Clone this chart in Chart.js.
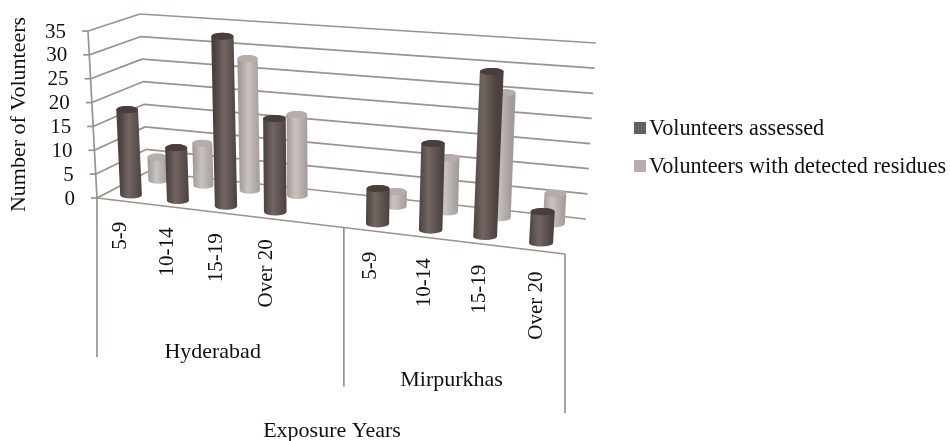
<!DOCTYPE html>
<html>
<head>
<meta charset="utf-8">
<style>
html, body { margin: 0; padding: 0; background: #fff; }
#wrap { width: 950px; height: 441px; }
</style>
<script src="https://cdn.jsdelivr.net/npm/chart.js@4/dist/chart.umd.min.js"></script>
</head>
<body>
<div id="wrap"><canvas id="chart" width="950" height="441"></canvas></div>
<script>
// values; the empty slot is the gap between the two towns
const categories = ['5-9', '10-14', '15-19', 'Over 20', '', '5-9', '10-14', '15-19', 'Over 20'];
const assessed = [18, 11, 35, 19, null, 7, 17, 32, 6];
const withResidues = [5, 9, 28, 17, null, 3, 11, 25, 6];
const groupNames = ['Hyderabad', 'Mirpurkhas'];
const groupFirstSlot = [0, 5];
const groupEndSlot = [5, 9];

const FONT = '"Liberation Serif", serif';
const LINE = '#9d918b';
const TEXT = '#111111';

// box corners on screen: floor and top (value 35), front and back
const box = {
    frontLeft: [[97, 198], [88, 31]],
    frontRight: [[565, 254], [576, 68]],
    backLeft: [[147, 172], [140, 14]],
    backRight: [[586, 219], [596, 43]]
};
const looks = [
    { depth: 0.22, edge: '#4b413e', mid: '#726663', cap: '#483e3b', swatch: '#6b5f5c' },
    { depth: 0.78, edge: '#a39b97', mid: '#c9c4c1', cap: '#b4adaa', swatch: '#b5adaa' }
];

function warp(u) {
    // things further right are nearer to the camera
    return u / (u + (1 - u) * 1.12);
}

function mix(a, b, t) {
    return [a[0] + (b[0] - a[0]) * t, a[1] + (b[1] - a[1]) * t];
}

// u along the categories, d into the depth, v up the value axis (all 0..1)
function project(u, d, v) {
    const w = warp(u);
    const floor = mix(mix(box.frontLeft[0], box.frontRight[0], w), mix(box.backLeft[0], box.backRight[0], w), d);
    const top = mix(mix(box.frontLeft[1], box.frontRight[1], w), mix(box.backLeft[1], box.backRight[1], w), d);
    return mix(floor, top, v);
}

function uOf(chart, px) {
    const a = chart.chartArea;
    return (px - a.left) / (a.right - a.left);
}

function vOf(chart, py) {
    const a = chart.chartArea;
    return (a.bottom - py) / (a.bottom - a.top);
}

function line(ctx, p, q) {
    ctx.beginPath();
    ctx.moveTo(p[0], p[1]);
    ctx.lineTo(q[0], q[1]);
    ctx.stroke();
}

function drawCylinder(chart, bar, u, look, scaleW) {
    const ctx = chart.ctx;
    const d = look.depth;
    const base = project(u, d, vOf(chart, bar.base));
    const top = project(u, d, vOf(chart, bar.y));
    const r = bar.width / 2 * scaleW;
    const ry = 3.6;

    const grad = ctx.createLinearGradient(base[0] - r, 0, base[0] + r, 0);
    grad.addColorStop(0, look.edge);
    grad.addColorStop(0.4, look.mid);
    grad.addColorStop(1, look.edge);

    ctx.fillStyle = grad;
    ctx.beginPath();
    ctx.moveTo(top[0] - r, top[1]);
    ctx.lineTo(base[0] - r, base[1]);
    ctx.ellipse(base[0], base[1], r, ry, 0, Math.PI, 0, true);
    ctx.lineTo(top[0] + r, top[1]);
    ctx.ellipse(top[0], top[1], r, ry, 0, 0, Math.PI, true);
    ctx.closePath();
    ctx.fill();

    ctx.fillStyle = look.cap;
    ctx.beginPath();
    ctx.ellipse(top[0], top[1], r, ry, 0, 0, Math.PI * 2);
    ctx.fill();
}

// the walls, cylinders and sloping axis text that Chart.js has no 3D mode for
const perspective = {
    id: 'perspective',
    beforeDatasetsDraw(chart) {
        const ctx = chart.ctx;
        const yScale = chart.scales.y;
        ctx.save();
        ctx.strokeStyle = LINE;
        ctx.lineWidth = 1.7;
        yScale.ticks.forEach(tick => {
            const v = vOf(chart, yScale.getPixelForValue(tick.value));
            const front = project(0, 0, v);
            line(ctx, [front[0] - 6, front[1]], front);
            line(ctx, front, project(0, 1, v));
            line(ctx, project(0, 1, v), project(1, 1, v));
        });
        line(ctx, project(0, 0, 1), project(0, 0, 0));
        line(ctx, project(0, 0, 0), project(1, 0, 0));

        // dropped dividers under the floor edge
        const edges = [0, groupEndSlot[0] / categories.length, 1];
        edges.forEach(u => {
            const p = project(u, 0, 0);
            line(ctx, p, [p[0], p[1] + 159]);
        });

        ctx.fillStyle = TEXT;
        ctx.font = '21px ' + FONT;
        ctx.textAlign = 'right';
        ctx.textBaseline = 'middle';
        yScale.ticks.forEach(tick => {
            const p = project(0, 0, vOf(chart, yScale.getPixelForValue(tick.value)));
            ctx.fillText(tick.label, p[0] - 22, p[1] + 1);
        });

        const xScale = chart.scales.x;
        categories.forEach((label, i) => {
            if (!label) return;
            const p = project(uOf(chart, xScale.getPixelForValue(i)), 0, 0);
            ctx.save();
            ctx.translate(p[0], p[1] + 21);
            ctx.rotate(-Math.PI / 2);
            ctx.textAlign = 'right';
            ctx.fillText(label, 0, 0);
            ctx.restore();
        });

        ctx.font = '22px ' + FONT;
        ctx.textAlign = 'center';
        groupNames.forEach((name, i) => {
            const u = (groupFirstSlot[i] + groupEndSlot[i]) / 2 / categories.length;
            const p = project(u, 0, 0);
            ctx.fillText(name, p[0] - (i === 0 ? 4 : 0), p[1] + 140);
        });
        ctx.fillText('Exposure Years', 332, 431);

        // legend
        ctx.font = '22.2px ' + FONT;
        ctx.textAlign = 'left';
        ctx.textBaseline = 'alphabetic';
        chart.data.datasets.forEach((ds, i) => {
            const y = 135 + i * 38;
            ctx.fillStyle = looks[i].swatch;
            ctx.fillRect(634, y - 13, 12, 12);
            ctx.fillStyle = TEXT;
            ctx.fillText(ds.label, 649, y);
        });
        ctx.restore();
    },
    beforeDatasetDraw(chart, args) {
        const ctx = chart.ctx;
        const meta = args.meta;
        const look = looks[args.index];
        ctx.save();
        meta.data.forEach((bar, i) => {
            if (chart.data.datasets[args.index].data[i] == null) return;
            const u = uOf(chart, bar.x);
            drawCylinder(chart, bar, u, look, 0.98 + 0.12 * u);
        });
        ctx.restore();
        return false;
    }
};

new Chart(document.getElementById('chart'), {
    type: 'bar',
    plugins: [perspective],
    data: {
        labels: categories,
        datasets: [
            { label: 'Volunteers assessed', data: assessed, barThickness: 22, grouped: false },
            { label: 'Volunteers with detected residues', data: withResidues, barThickness: 20, grouped: false }
        ]
    },
    options: {
        responsive: false,
        animation: false,
        layout: { padding: { top: 31, bottom: 243, right: 385 } },
        plugins: { legend: { display: false }, tooltip: { enabled: false } },
        scales: {
            x: { display: false },
            y: {
                min: 0,
                max: 35,
                ticks: { stepSize: 5, display: false },
                grid: { display: false },
                border: { display: false },
                title: { display: true, text: 'Number of Volunteers', color: TEXT, font: { family: FONT, size: 22 }, padding: { top: 6, bottom: 0 } },
                afterFit(scale) { scale.width = 97; }
            }
        }
    }
});
</script>
</body>
</html>
